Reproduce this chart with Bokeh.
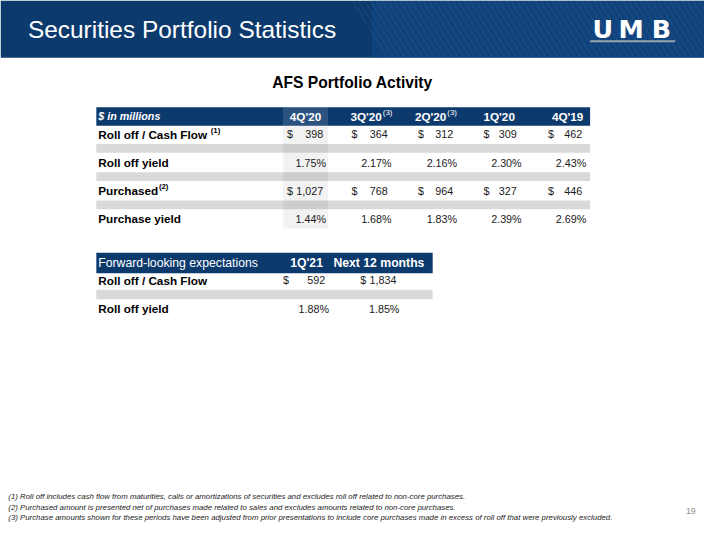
from bokeh.plotting import figure
from bokeh.models import Range1d
from bokeh.core.properties import value
from bokeh.embed import file_html
from bokeh.resources import INLINE

# ---------------- data ----------------
slide_title = "Securities Portfolio Statistics"
table_title = "AFS Portfolio Activity"
unit_label = "$ in millions"
periods = ["4Q'20", "3Q'20", "2Q'20", "1Q'20", "4Q'19"]
period_notes = ["", "(3)", "(3)", "", ""]
row_labels = ["Roll off / Cash Flow", "Roll off yield", "Purchased", "Purchase yield"]
row_notes = ["(1)", "", "(2)", ""]
roll_off = [398, 364, 312, 309, 462]
roll_off_yield = [1.75, 2.17, 2.16, 2.30, 2.43]
purchased = [1027, 768, 964, 327, 446]
purchase_yield = [1.44, 1.68, 1.83, 2.39, 2.69]

fwd_header = "Forward-looking expectations"
fwd_periods = ["1Q'21", "Next 12 months"]
fwd_labels = ["Roll off / Cash Flow", "Roll off yield"]
fwd_roll_off = [592, 1834]
fwd_roll_off_yield = [1.88, 1.85]

footnotes = [
    "(1) Roll off includes cash flow from maturities, calls or amortizations of securities and excludes roll off related to non-core purchases.",
    "(2) Purchased amount is presented net of purchases made related to sales and excludes amounts related to non-core purchases.",
    "(3) Purchase amounts shown for these periods have been adjusted from prior presentations to include core purchases made in excess of roll off that were previously excluded.",
]
page_number = "19"
logo_letters = ["U", "M", "B"]

# ---------------- style / layout ----------------
FONT = "Liberation Sans"
NAVY = "#0d3a6d"
BAND = "#d9d9d9"
TXT = "#000000"
NUM = "#1a1a1a"
W, H = 704, 524
SCALE = W / 720.0

p = figure(width=W, height=H, output_backend="svg", toolbar_location=None,
           x_range=Range1d(0, 720), y_range=Range1d(540, 0),
           min_border=0, outline_line_color=None)
p.xaxis.visible = False
p.yaxis.visible = False
p.grid.visible = False
p.background_fill_color = "white"
p.border_fill_color = "white"


def txt(x, y, s, size, color=TXT, align="left", style="normal", baseline="middle", font=FONT):
    fs = "%.2fpx" % (size * SCALE)
    p.text(x=[x], y=[y], text=[s], text_font=value(font), text_font_size=value(fs),
           text_color=color, text_align=align, text_baseline=baseline, text_font_style=style)


# banner
p.quad(left=[0], right=[720], top=[0], bottom=[59], fill_color=NAVY, line_color=None)
p.quad(left=[380], right=[720], top=[0], bottom=[59], fill_color="#15508c", fill_alpha=0.45, line_color=None)
sx0, sx1 = [], []
for i in range(70):
    x = 360 + i * 6
    sx0.append(x)
    sx1.append(x + 36)
p.segment(x0=sx0, y0=[0] * len(sx0), x1=sx1, y1=[59] * len(sx0), line_color="#3a6ea5",
          line_alpha=0.35, line_width=1)
txt(28, 30, slide_title, 25, color="white")
for letter, lx in zip(logo_letters, [616, 645, 676]):
    txt(lx, 29, letter, 26, color="white", align="center", style="bold", font="DejaVu Sans")
p.segment(x0=[603], y0=[42], x1=[690], y1=[42], line_color="#9aa4b0", line_width=2)

# table title
txt(360, 84, table_title, 16, style="bold", align="center")

# ---------------- table 1 ----------------
T1_L, T1_R = 98, 603
HEAD_T, HEAD_B = 110, 129
row_y = [138, 167, 196, 225]
bands = [(148, 157), (177, 186), (206, 215)]
dollar_x = [293, 359, 427, 494, 560]
num_right = [330, 396, 463, 528, 595]
pct_right = [333, 400, 467, 533, 599]
head_x = [312, 390, 456, 510, 580]
HL_L, HL_R = 289, 335

p.quad(left=[T1_L], right=[T1_R], top=[HEAD_T], bottom=[HEAD_B], fill_color=NAVY, line_color=None)
p.quad(left=[HL_L], right=[HL_R], top=[HEAD_T], bottom=[HEAD_B], fill_color="white", fill_alpha=0.13, line_color=None)
p.quad(left=[T1_L] * 3, right=[T1_R] * 3, top=[b[0] for b in bands], bottom=[b[1] for b in bands],
       fill_color=BAND, line_color=None)
p.quad(left=[HL_L], right=[HL_R], top=[HEAD_B], bottom=[235], fill_color="black", fill_alpha=0.05, line_color=None)

txt(100, 119.5, unit_label, 11, color="white", style="bold italic")
for per, note, hx in zip(periods, period_notes, head_x):
    if note:
        txt(hx, 119.5, per, 12, color="white", style="bold", align="right")
        txt(hx + 1, 115, note, 8, color="white")
    else:
        txt(hx, 119.5, per, 12, color="white", style="bold", align="center")

note_x = [215, 0, 162, 0]
for lab, note, ry, nx in zip(row_labels, row_notes, row_y, note_x):
    txt(100, ry, lab, 12, style="bold")
    if note:
        txt(nx, ry - 4, note, 8, style="bold")

series = [roll_off, roll_off_yield, purchased, purchase_yield]
kinds = ["usd", "pct", "usd", "pct"]
for vals, kind, ry in zip(series, kinds, row_y):
    for i, v in enumerate(vals):
        if kind == "usd":
            txt(dollar_x[i], ry, "$", 11, color=NUM)
            txt(num_right[i], ry, f"{v:,}", 11, color=NUM, align="right")
        else:
            txt(pct_right[i], ry, f"{v:.2f}%", 11, color=NUM, align="right")

# ---------------- table 2 ----------------
T2_L, T2_R = 98, 442
H2_T, H2_B = 260, 281
row2_y = [288.5, 317.5]
p.quad(left=[T2_L], right=[T2_R], top=[H2_T], bottom=[H2_B], fill_color=NAVY, line_color=None)
p.quad(left=[T2_L], right=[T2_R], top=[298], bottom=[308], fill_color=BAND, line_color=None)
txt(100, 270.5, fwd_header, 12.5, color="white")
fwd_head_x = [313, 387]
for per, hx in zip(fwd_periods, fwd_head_x):
    txt(hx, 270.5, per, 12.5, color="white", style="bold", align="center")
for lab, ry in zip(fwd_labels, row2_y):
    txt(100, ry, lab, 12, style="bold")
fwd_dollar_x = [289, 368]
fwd_num_right = [332, 405]
fwd_pct_right = [336, 408]
for i, v in enumerate(fwd_roll_off):
    txt(fwd_dollar_x[i], row2_y[0], "$", 11, color=NUM)
    txt(fwd_num_right[i], row2_y[0], f"{v:,}", 11, color=NUM, align="right")
for i, v in enumerate(fwd_roll_off_yield):
    txt(fwd_pct_right[i], row2_y[1], f"{v:.2f}%", 11, color=NUM, align="right")

# ---------------- footnotes ----------------
for k, fn in enumerate(footnotes):
    txt(8, 511 + k * 11, fn, 8.0, color="#222222", style="italic")
txt(711, 526, page_number, 9, color="#8c8c8c", align="right")

open("out.html", "w").write(file_html(p, INLINE))
